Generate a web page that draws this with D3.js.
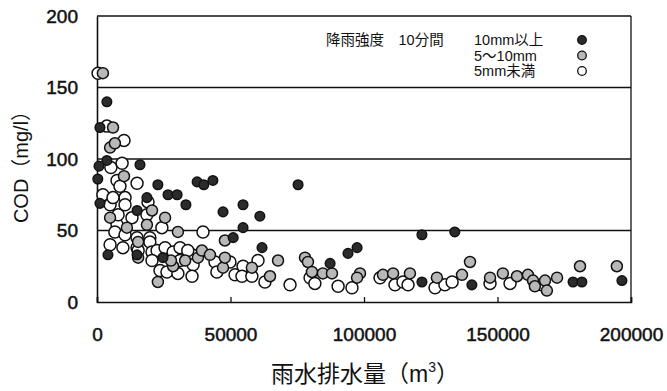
<!DOCTYPE html>
<html>
<head>
<meta charset="utf-8">
<script src="https://cdn.jsdelivr.net/npm/d3@7"></script>
<style>
	body { margin: 0; background: #fff; }
	text { font-family: "Liberation Sans", Arial, "Noto Sans CJK JP", sans-serif; }
</style>
</head>
<body>
<svg id="chart"></svg>
<script>
// chart data
var xTicks = [0, 50000, 100000, 150000, 200000],
	yTicks = [0, 50, 100, 150, 200],
	gridValues = [50, 100, 150, 200];

var legendTitle = '降雨強度　10分間',
	legendLabels = ['10mm以上', '5～10mm', '5mm未満'];

// 10mm or more in 10 min: [drainage m3, COD mg/l]
var heavyRain = [
	[3700, 140], [1100, 122], [3700, 99], [750, 95], [16100, 96], [300, 86],
	[22800, 82], [37500, 84], [40000, 82], [43400, 85], [1100, 69], [15000, 64],
	[18700, 73], [26600, 75], [30000, 75], [33300, 68], [47200, 63], [54700, 68],
	[61000, 60], [54700, 52], [51000, 45], [61800, 38], [75300, 82], [4100, 33],
	[15000, 33], [24700, 31], [87300, 27], [94000, 34], [97400, 38], [121700, 47],
	[134000, 49], [121700, 14], [140400, 12], [178300, 14], [181600, 14], [196600, 15]
];

// 5-10mm in 10 min
var midRain = [
	[2200, 160], [6000, 122], [4900, 108], [6700, 111], [10100, 88], [4900, 59],
	[11200, 52], [20600, 64], [18700, 54], [25500, 59], [30300, 49], [15400, 42],
	[28500, 25], [33000, 29], [37800, 31], [39300, 36], [22800, 14], [47900, 43],
	[47200, 24], [42300, 33], [47900, 31], [58000, 24], [64800, 18], [67800, 29],
	[77900, 31], [79000, 28], [80500, 21], [84600, 20], [88000, 20], [98500, 20],
	[97400, 17], [107100, 19], [110900, 20], [117200, 20], [127300, 17], [136700, 19],
	[139700, 28], [147200, 17], [152000, 20], [157300, 18], [161400, 19], [163300, 15],
	[164000, 11], [167800, 15], [168500, 8], [172300, 17], [180900, 25], [194700, 25],
	[27700, 29], [15400, 31]
];

// under 5mm in 10 min
var lightRain = [
	[400, 160], [3700, 123], [10100, 113], [5200, 94], [9400, 97], [7500, 85],
	[15000, 83], [2200, 75], [4900, 68], [10500, 73], [10500, 68], [13100, 59],
	[18700, 61], [7500, 54], [24300, 52], [6700, 49], [10500, 47], [15000, 45],
	[19800, 45], [4900, 40], [9700, 38], [15000, 38], [19800, 42], [20600, 35],
	[22500, 36], [25500, 38], [20600, 29], [28500, 35], [31100, 38], [23600, 22],
	[26200, 21], [31100, 29], [35600, 33], [36000, 26], [30300, 20], [35600, 18],
	[39700, 49], [44200, 28], [44900, 21], [49800, 28], [51700, 19], [54700, 25],
	[60300, 29], [54300, 18], [58000, 18], [62900, 14], [72300, 12], [79800, 17],
	[81600, 13], [90300, 11], [95500, 10], [106000, 17], [111600, 12], [114600, 14],
	[116500, 12], [126600, 10], [130300, 12], [133000, 14], [147200, 13], [154700, 13],
	[166600, 12], [6000, 73], [19100, 70], [15400, 36], [8600, 81], [7900, 61],
	[34000, 36]
];

var width = 667,
	height = 391,
	plotLeft = 97,
	plotRight = 631,
	plotTop = 16,
	plotBottom = 302;

var svg = d3.select('#chart')
	.attr('width', width)
	.attr('height', height);

var x = d3.scaleLinear().domain([0, 200000]).range([plotLeft, plotRight]);
var y = d3.scaleLinear().domain([0, 200]).range([plotBottom, plotTop]);

// horizontal grid lines (the 200 line doubles as top of frame)
svg.selectAll('.grid')
	.data(gridValues)
	.enter().append('line')
		.attr('class', 'grid')
		.attr('x1', x(0))
		.attr('x2', x(200000))
		.attr('y1', function(d) { return y(d); })
		.attr('y2', function(d) { return y(d); })
		.attr('stroke', '#111')
		.attr('stroke-width', 1.3);

// right frame
svg.append('line')
	.attr('x1', x(200000)).attr('x2', x(200000))
	.attr('y1', y(0)).attr('y2', y(200))
	.attr('stroke', '#111')
	.attr('stroke-width', 1.3);

// axes
var xAxis = svg.append('g')
	.attr('transform', 'translate(0,' + plotBottom + ')')
	.call(d3.axisBottom(x).tickValues(xTicks).tickSize(-5).tickPadding(26).tickFormat(d3.format('d')));

var yAxis = svg.append('g')
	.attr('transform', 'translate(' + plotLeft + ',0)')
	.call(d3.axisLeft(y).tickValues(yTicks).tickSize(0).tickPadding(19));

[xAxis, yAxis].forEach(function(ax) {
	ax.select('.domain').attr('stroke', '#111').attr('stroke-width', 1.6);
	ax.selectAll('.tick line').attr('stroke', '#111').attr('stroke-width', 1.3);
	ax.selectAll('.tick text')
		.attr('font-family', '"Liberation Sans", Arial, sans-serif')
		.attr('font-size', 19)
		.attr('fill', '#111')
		.attr('stroke', '#111')
		.attr('stroke-width', 0.5);
});

// axis titles
svg.append('text')
	.attr('transform', 'translate(28,' + 162 + ') rotate(-90)')
	.attr('text-anchor', 'middle')
	.attr('font-size', 20)
	.attr('fill', '#111')
	.text('COD（mg/l）');

var xTitle = svg.append('text')
	.attr('x', 365)
	.attr('y', 382)
	.attr('text-anchor', 'middle')
	.attr('font-size', 23)
	.attr('fill', '#111');
xTitle.append('tspan').text('雨水排水量（m');
xTitle.append('tspan').attr('dy', -10).attr('font-size', 14).text('3');
xTitle.append('tspan').attr('dy', 10).text('）');

// markers
var styles = [
	{ data: lightRain, fill: '#ffffff', r: 6 },
	{ data: midRain, fill: '#b8b8b8', r: 5.5 },
	{ data: heavyRain, fill: '#2b2b2b', r: 4.8 }
];

styles.forEach(function(s, k) {
	svg.append('g').selectAll('circle')
		.data(s.data)
		.enter().append('circle')
			.attr('cx', function(d) { return x(d[0]); })
			.attr('cy', function(d) { return y(d[1]); })
			.attr('r', s.r)
			.attr('fill', s.fill)
			.attr('stroke', '#111')
			.attr('stroke-width', 1.5);
});

// legend
svg.append('text')
	.attr('x', 326)
	.attr('y', 45)
	.attr('font-family', '"Noto Sans CJK JP", sans-serif')
	.attr('font-size', 14.5)
	.attr('fill', '#111')
	.text(legendTitle);

var legendFills = ['#2b2b2b', '#b8b8b8', '#ffffff'];
var legend = svg.selectAll('.legend')
	.data(legendLabels)
	.enter().append('g')
		.attr('class', 'legend')
		.attr('transform', function(d, i) { return 'translate(0,' + (39 + i * 15.5) + ')'; });

legend.append('text')
	.attr('x', 474)
	.attr('y', 6)
	.attr('font-family', '"Noto Sans CJK JP", sans-serif')
	.attr('font-size', 14.5)
	.attr('fill', '#111')
	.text(function(d) { return d; });

legend.append('circle')
	.attr('cx', 582)
	.attr('cy', 1)
	.attr('r', 4.3)
	.attr('fill', function(d, i) { return legendFills[i]; })
	.attr('stroke', '#111')
	.attr('stroke-width', 1.3);
</script>
</body>
</html>
